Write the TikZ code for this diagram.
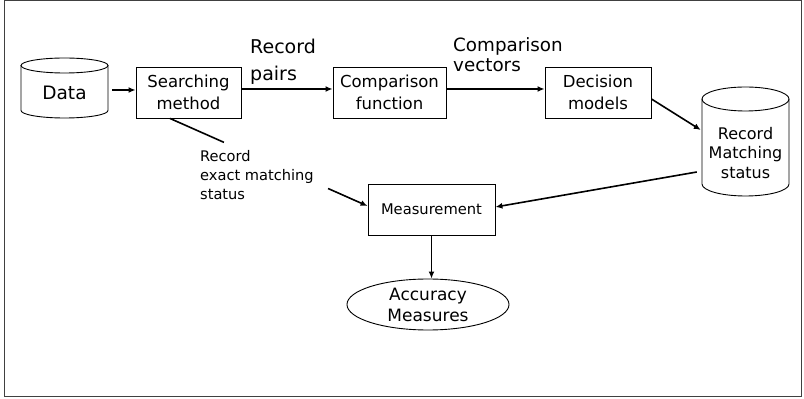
\documentclass[tikz,border=0pt]{standalone}
\usepackage{fontspec}
\setmainfont{DejaVu Sans}
\usetikzlibrary{arrows.meta,shapes.geometric,calc}
\begin{document}
\begin{tikzpicture}[x=1pt,y=1pt,
  box/.style={draw,line width=0.9pt,align=center,inner sep=0pt,font=\fontsize{16.5}{22}\selectfont},
  cyl/.style={line width=0.9pt},
  arr/.style={line width=1.6pt,-{Latex[length=7pt,width=6pt]}},
  plain/.style={line width=1.6pt},
  lbl/.style={align=left,inner sep=0pt,anchor=north west}]
\useasboundingbox (0,0) rectangle (804,399);
\draw[line width=1pt,black!75] (4,2) rectangle (801,398);

% Data cylinder
\draw[cyl] (21,333.5) -- (21,288.5) arc[start angle=180,end angle=360,x radius=43.5,y radius=7.5] -- (108,333.5);
\draw[cyl] (64.5,333.5) ellipse [x radius=43.5,y radius=7.5];
\node[inner sep=0pt,minimum width=87pt,minimum height=50pt,font=\fontsize{18.5}{22}\selectfont] (data) at (64.5,306) {Data};

% Record matching status cylinder
\draw[cyl] (702,300) -- (702,215) arc[start angle=180,end angle=360,x radius=43.5,y radius=12] -- (789,300);
\draw[cyl] (745.5,300) ellipse [x radius=43.5,y radius=12];
\node[inner sep=0pt,minimum width=87pt,minimum height=86pt,align=center,font=\fontsize{16}{19.5}\selectfont] (rms) at (745.5,246) {Record\\Matching\\status};

% boxes
\node[box,minimum width=105pt,minimum height=51pt] (srch) at (188.5,306.5) {Searching\\method};
\node[box,minimum width=113pt,minimum height=51pt] (cmp) at (389.5,306.5) {Comparison\\function};
\node[box,minimum width=106pt,minimum height=51pt] (dec) at (598,306.5) {Decision\\models};
\node[box,minimum width=127pt,minimum height=51pt,font=\fontsize{14.7}{18}\selectfont] (meas) at (431.5,189.5) {Measurement};
\node[ellipse,draw,line width=0.9pt,minimum width=162pt,minimum height=51pt,inner sep=0pt,align=center,font=\fontsize{17}{21}\selectfont] (acc) at (428,94.5) {Accuracy\\Measures};

% labels
\node[lbl,font=\fontsize{19}{27}\selectfont] (lpairs) at (250,360) {Record\\pairs};
\node[lbl,font=\fontsize{18.3}{20}\selectfont] (lvec) at (453,362) {Comparison\\vectors};
\node[lbl,font=\fontsize{14.6}{19}\selectfont] (lexact) at (200,249) {Record\\exact matching\\status};

% connectors
\draw[arr] ([xshift=4pt,yshift=3pt]data.east) -- ([yshift=2.5pt]srch.west);
\draw[arr] ([yshift=3.5pt]srch.east) -- ([yshift=3.5pt]cmp.west);
\draw[arr] ([yshift=3.5pt]cmp.east) -- ([yshift=3.5pt]dec.west);
\draw[arr] ([yshift=-6.5pt]dec.east) -- ([xshift=-1pt,yshift=23pt]rms.west);
\draw[arr] ([xshift=-5pt,yshift=-19pt]rms.west) -- ([yshift=2.5pt]meas.east);
\coordinate (sA) at ([xshift=-18.5pt]srch.south);
\coordinate (sB) at ([yshift=3.5pt]meas.west);
\draw[plain] (sA) -- ($(sA)!0.273!(sB)$);
\draw[arr] ($(sA)!0.80!(sB)$) -- (sB);
\draw[arr] (meas.south) -- (meas.south |- acc.north);
\end{tikzpicture}
\end{document}
